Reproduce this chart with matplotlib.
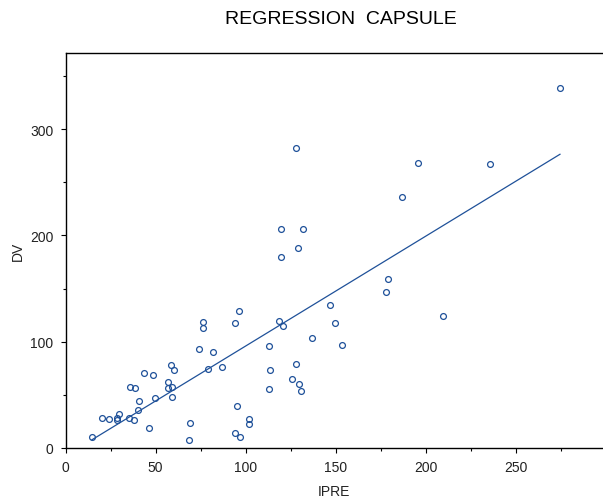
import numpy as np
import matplotlib
matplotlib.use('Agg')
import matplotlib.pyplot as plt
from matplotlib.ticker import MultipleLocator

plt.rcParams['font.family'] = ['Liberation Sans', 'DejaVu Sans']

ipre = [14.7, 20.1, 24.2, 28.4, 28.4, 29.9, 35.5, 38.1, 40.1, 40.6,
        46.6, 49.7, 36.0, 38.6, 43.8, 48.6, 57.1, 57.1, 59.3, 58.6,
        60.1, 59.3, 69.2, 68.8, 74.0, 76.6, 76.6, 81.9, 79.2, 86.9,
        96.6, 94.2, 95.3, 101.8, 101.8, 94.2, 96.8, 112.9, 113.8, 112.9,
        118.8, 121.0, 125.8, 127.9, 129.7, 130.8, 136.9, 146.9, 149.9, 153.8,
        127.9, 119.9, 131.8, 129.0, 119.9, 274.7, 195.8, 235.8, 186.9, 179.0,
        177.9, 209.9]
dv = [10.1, 28.2, 27.3, 27.9, 26.6, 31.7, 27.9, 26.3, 35.7, 44.5,
      18.8, 47.3, 57.4, 56.7, 70.6, 68.7, 62.4, 56.2, 57.4, 78.1,
      73.4, 48.0, 23.2, 7.2, 92.9, 118.5, 112.9, 90.0, 74.6, 76.5,
      128.6, 117.6, 39.8, 27.6, 22.6, 14.4, 10.6, 96.2, 73.7, 55.5,
      119.5, 114.8, 64.6, 79.0, 59.9, 53.6, 103.8, 134.5, 117.6, 97.2,
      282.2, 206.3, 206.3, 188.4, 179.7, 339.0, 268.4, 267.2, 236.4, 159.3,
      146.8, 124.5]

x = np.array(ipre)
y = np.array(dv)
slope, intercept = np.polyfit(x, y, 1)
xs = np.array([x.min(), x.max()])

col = '#1f5199'

fig = plt.figure(figsize=(6.03, 5.02), dpi=100)
ax = fig.add_axes([65.5 / 603, 53 / 502, (603 - 65.5) / 603, (449 - 53.5) / 502])
ax.plot(x, y, 'o', ms=4.2, mfc='none', mec=col, mew=0.9)
ax.plot(xs, slope * xs + intercept, color=col, lw=0.9)

ax.set_xlim(0, 298.6)
ax.set_ylim(0, 372)
ax.spines['right'].set_visible(False)
for s in ['left', 'bottom', 'top']:
    ax.spines[s].set_linewidth(1.0)
ax.xaxis.set_major_locator(MultipleLocator(50))
ax.xaxis.set_minor_locator(MultipleLocator(25))
ax.yaxis.set_major_locator(MultipleLocator(100))
ax.yaxis.set_minor_locator(MultipleLocator(50))
ax.tick_params(which='major', length=3.6, width=0.8, labelsize=10, pad=5,
               labelcolor='#222222')
ax.tick_params(which='minor', length=2.5, width=0.8)
ax.tick_params(top=False, right=False, which='both')

ax.set_xlabel('IPRE', fontsize=10, labelpad=7, color='#222222')
ax.set_ylabel('DV', fontsize=10, labelpad=4, color='#222222')
fig.text(0.566, 0.962, 'REGRESSION  CAPSULE', ha='center', va='center',
         fontsize=14)

fig.savefig('out.png', dpi=100)
